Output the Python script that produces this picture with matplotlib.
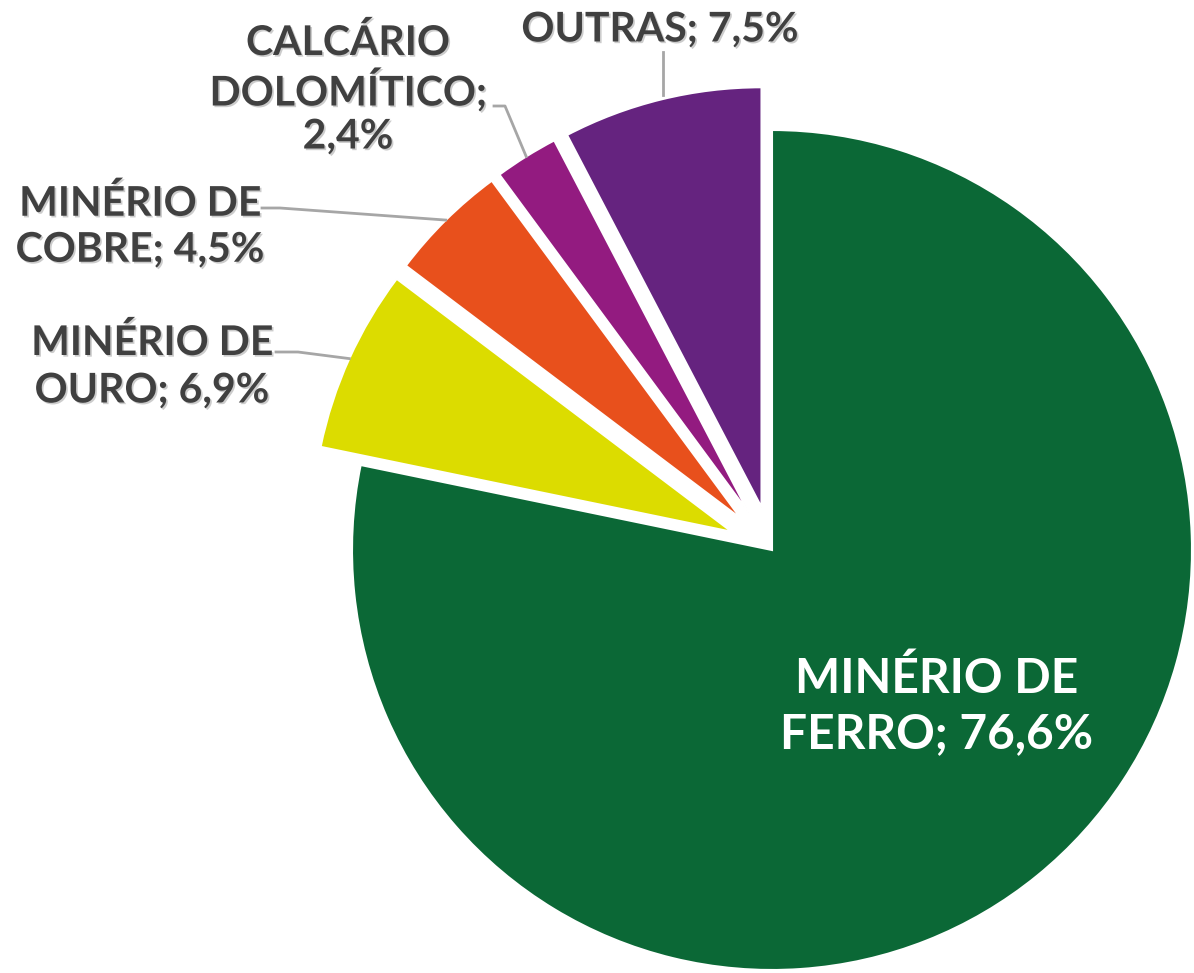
import matplotlib
matplotlib.use("Agg")
import matplotlib.pyplot as plt
import matplotlib.patheffects as pe
import numpy as np

categories = ["MINÉRIO DE\nFERRO", "MINÉRIO DE\nOURO", "MINÉRIO DE\nCOBRE",
              "CALCÁRIO\nDOLOMÍTICO;", "OUTRAS"]
values = [76.6, 6.9, 4.5, 2.4, 7.5]
value_labels = ["76,6%", "6,9%", "4,5%", "2,4%", "7,5%"]
colors = ["#0B6836", "#DCDC00", "#E8501C", "#931B80", "#65237F"]

W, H = 1194, 973
fig = plt.figure(figsize=(W / 100, H / 100), dpi=100)
ax = fig.add_axes([0, 0, 1, 1])

R = 420
cx, cy = 772, H - 550
explode = [0, 44, 44, 44, 44]
wedges, _ = ax.pie(values, colors=colors, startangle=90, counterclock=False,
                   radius=R, center=(cx, cy), explode=explode,
                   wedgeprops=dict(edgecolor="white", linewidth=1.5))
ax.set_xlim(0, W)
ax.set_ylim(0, H)
ax.set_aspect("equal")
ax.axis("off")

FONT = "Lato"
txt_col = "#404040"
line_col = "#A6A6A6"
shadow = [pe.withSimplePatchShadow(offset=(1.2, -1.2), shadow_rgbFace="#9A9A9A", alpha=0.5)]


def arc_point(w):
    mid = np.deg2rad((w.theta1 + w.theta2) / 2)
    c = w.center
    return c[0] + w.r * np.cos(mid), c[1] + w.r * np.sin(mid)


def py(y):
    return H - y

# Ferro label (inside, white)
ax.text(937, py(706), "MINÉRIO DE\nFERRO; " + value_labels[0], color="white",
        fontsize=34.5, fontweight="bold", family=FONT, ha="center", va="center",
        linespacing=1.3)

# Ouro
ax.text(152, py(367), "MINÉRIO DE\nOURO; " + value_labels[1], color=txt_col,
        fontsize=29.5, fontweight="bold", family=FONT, ha="center", va="center",
        linespacing=1.35, path_effects=shadow)
x1, y1 = arc_point(wedges[1])
ax.plot([276, 298, x1], [py(352), py(352), y1], color=line_col, lw=2)

# Cobre
ax.text(140, py(227), "MINÉRIO DE\nCOBRE; " + value_labels[2], color=txt_col,
        fontsize=29.5, fontweight="bold", family=FONT, ha="center", va="center",
        linespacing=1.3, path_effects=shadow)
x2, y2 = arc_point(wedges[2])
ax.plot([262, 280, x2], [py(208), py(208), y2], color=line_col, lw=2)

# Calcario
ax.text(348, py(90), "CALCÁRIO\nDOLOMÍTICO;\n" + value_labels[3], color=txt_col,
        fontsize=29.5, fontweight="bold", family=FONT, ha="center", va="center",
        linespacing=1.2, path_effects=shadow)
x3, y3 = arc_point(wedges[3])
ax.plot([494, 505, x3], [py(106), py(106), y3], color=line_col, lw=2)

# Outras
ax.text(660, py(30), "OUTRAS; " + value_labels[4], color=txt_col,
        fontsize=29.5, fontweight="bold", family=FONT, ha="center", va="center",
        path_effects=shadow)
x4, y4 = arc_point(wedges[4])
ax.plot([663, 663], [py(52), py(95)], color=line_col, lw=2)

fig.savefig("out.png", dpi=100, facecolor="white")
